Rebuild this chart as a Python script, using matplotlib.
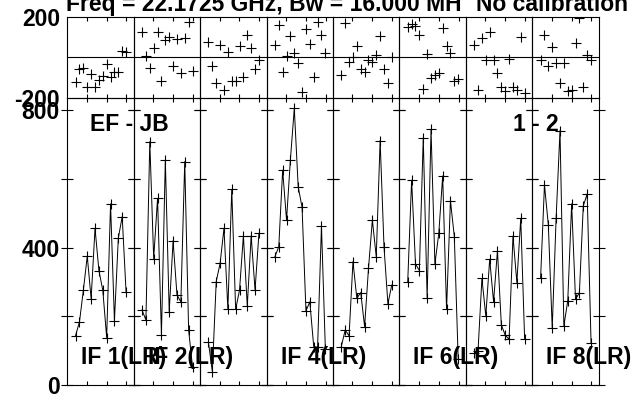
import matplotlib
matplotlib.use('Agg')
import matplotlib.pyplot as plt

plt.rcParams['font.family'] = ['Liberation Sans', 'DejaVu Sans']
plt.rcParams['font.weight'] = 'bold'

# ---------------- data ----------------
channels = list(range(1, 15))
if_names = ['IF 1', 'IF 2', 'IF 3', 'IF 4', 'IF 5', 'IF 6', 'IF 7', 'IF 8']
if_label_shown = [True, True, False, True, False, True, False, True]

amp_if1 = [144, 184, 276, 375, 251, 456, 333, 276, 138, 527, 187, 427, 490, 270]
amp_if2 = [218, 189, 708, 368, 543, 145, 655, 213, 420, 262, 242, 650, 160, 53]
amp_if3 = [124, 39, 301, 354, 456, 220, 569, 220, 276, 434, 230, 434, 276, 441]
amp_if4 = [373, 402, 625, 480, 656, 805, 577, 517, 216, 242, 112, 110, 463, 105]
amp_if5 = [112, 160, 143, 359, 252, 269, 170, 339, 480, 373, 711, 402, 236, 291]
amp_if6 = [301, 596, 352, 333, 720, 252, 744, 352, 441, 608, 220, 536, 432, 75]
amp_if7 = [92, 100, 310, 201, 366, 242, 391, 175, 145, 133, 433, 298, 485, 133]
amp_if8 = [310, 582, 465, 165, 485, 740, 172, 245, 527, 249, 269, 521, 556, 123]

phase_if1 = [-122, -58, -55, -145, -83, -145, -110, -92, -33, -95, -72, -75, 33, 25]
phase_if2 = [125, 5, -55, 45, 128, -117, 88, 100, -45, 92, -78, 95, 175, -67]
phase_if3 = [75, -45, -128, 62, -162, 25, -117, -117, 55, -95, 112, 45, -58, -12]
phase_if4 = [62, 158, -72, 8, 105, 22, -28, -172, 142, 67, -95, 175, 112, 22]
phase_if5 = [-88, 172, -22, 2, 58, -58, -72, -15, -22, 12, 108, -58, -128, 0]
phase_if6 = [150, 165, 155, 112, -155, 17, -100, -88, -78, 145, 58, 22, -117, -108]
phase_if7 = [62, -162, 95, -12, 125, -12, -78, -145, -167, -8, -145, -162, 100, -178]
phase_if8 = [-12, 112, -45, 50, -28, -128, -28, -167, -162, 72, 195, -145, 12, -12]

amps = [amp_if1, amp_if2, amp_if3, amp_if4, amp_if5, amp_if6, amp_if7, amp_if8]
phases = [phase_if1, phase_if2, phase_if3, phase_if4,
          phase_if5, phase_if6, phase_if7, phase_if8]

amp_ticks = [0, 200, 400, 600, 800]
amp_ticklabels = ['0', '', '400', '', '800']
phase_ticks = [-200, 200]
phase_ticklabels = ['-200', '200']

title_text = 'Freq = 22.1725 GHz, Bw = 16.000 MH'
calib_text = 'No calibration'
baseline_text = 'EF - JB'
pair_text = '1 - 2'
pol = '(LR)'

# ---------------- layout ----------------
W, H = 637, 394
fig = plt.figure(figsize=(W / 100, H / 100), dpi=100)

left_px, right_px = 67.3, 598.7
top_px, mid_px, bot_px = 17.0, 97.7, 385.0
pw = (right_px - left_px) / 8
FS = 16.5
lw = 0.8

for i in range(8):
    x0 = (left_px + i * pw) / W
    axp = fig.add_axes([x0, 1 - mid_px / H, pw / W, (mid_px - top_px) / H])
    axa = fig.add_axes([x0, 1 - bot_px / H, pw / W, (bot_px - mid_px) / H])

    # phase
    axp.plot(channels, phases[i], linestyle='none', marker='+', color='black',
             markersize=7, markeredgewidth=0.8)
    axp.axhline(0, color='black', lw=lw)
    axp.set_ylim(-200, 200)
    # amplitude
    axa.plot(channels, amps[i], color='black', lw=0.7, marker='+',
             markersize=7, markeredgewidth=0.8)
    axa.set_ylim(0, 835.8)

    for ax in (axp, axa):
        ax.set_xlim(-1.14, 15.97)
        ax.set_xticks([3.85, 8.97, 14.1])
        ax.tick_params(axis='x', direction='in', length=3.2, width=lw,
                       top=True, bottom=True, labelbottom=False)
        for s in ax.spines.values():
            s.set_linewidth(lw)
            s.set_color('black')
        ax.set_facecolor('none')

    axa.set_yticks(amp_ticks)
    axp.set_yticks(phase_ticks)
    axa.tick_params(axis='y', direction='inout', length=8, width=lw,
                    left=True, right=True, labelleft=(i == 0), pad=1.3,
                    labelsize=FS)
    axp.tick_params(axis='y', length=0, left=True, right=False,
                    labelleft=(i == 0), pad=5.3, labelsize=FS)
    if i == 0:
        axa.set_yticklabels(amp_ticklabels, fontweight='bold')
        axp.set_yticklabels(phase_ticklabels, fontweight='bold')
    else:
        axa.set_yticklabels([])
        axp.set_yticklabels([])

# IF labels
for i in range(8):
    if if_label_shown[i]:
        fig.text((left_px + i * pw + 14.0) / W, 1 - 364 / H, if_names[i] + pol,
                 fontsize=FS, fontweight='bold', va='baseline', ha='left')

fig.text(89.5 / W, 1 - 130.7 / H, baseline_text, fontsize=FS,
         fontweight='bold', va='baseline')
fig.text(513 / W, 1 - 130.7 / H, pair_text, fontsize=FS,
         fontweight='bold', va='baseline')

fig.text(66 / W, 1 - 11 / H, title_text, fontsize=FS, fontweight='bold',
         va='baseline')
fig.text(476 / W, 1 - 11 / H, calib_text, fontsize=FS, fontweight='bold',
         va='baseline')

fig.savefig('out.png', dpi=100)
